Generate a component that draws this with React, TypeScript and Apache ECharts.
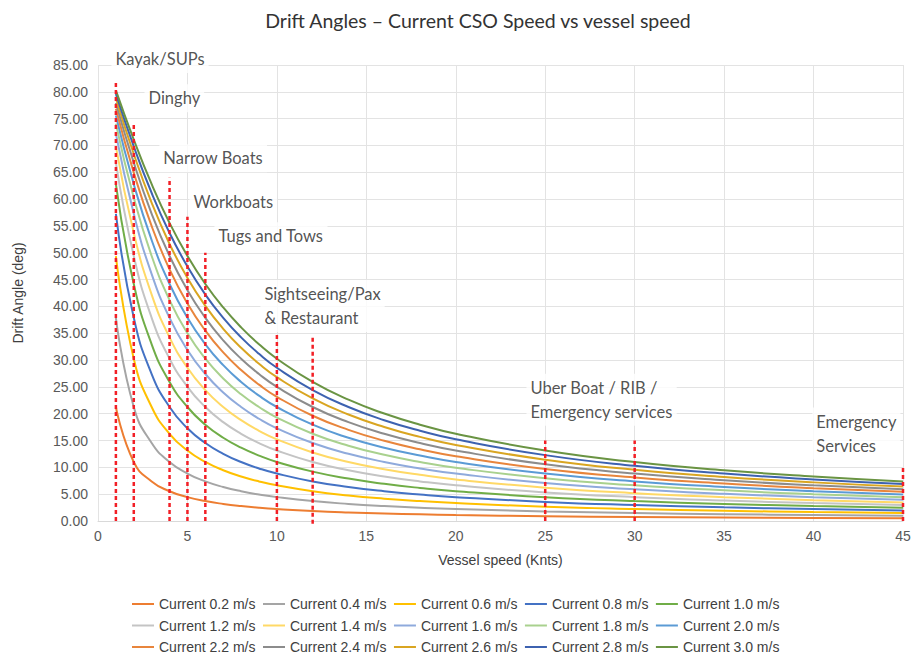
import React, { useEffect, useRef } from "react";
import * as echarts from "echarts";

const vesselSpeeds = [1, 2, 3, 4, 5, 6, 7, 8, 9, 10, 12, 14, 16, 18, 20, 25, 30, 35, 40, 45];

const currentLabels = [
  "Current 0.2 m/s", "Current 0.4 m/s", "Current 0.6 m/s", "Current 0.8 m/s", "Current 1.0 m/s",
  "Current 1.2 m/s", "Current 1.4 m/s", "Current 1.6 m/s", "Current 1.8 m/s", "Current 2.0 m/s",
  "Current 2.2 m/s", "Current 2.4 m/s", "Current 2.6 m/s", "Current 2.8 m/s", "Current 3.0 m/s",
];

const c02 = [21.25, 11.0, 7.38, 5.55, 4.45, 3.71, 3.18, 2.78, 2.47, 2.23, 1.86, 1.59, 1.39, 1.24, 1.11, 0.89, 0.74, 0.64, 0.56, 0.5];
const c04 = [37.87, 21.25, 14.53, 11.0, 8.84, 7.38, 6.34, 5.55, 4.94, 4.45, 3.71, 3.18, 2.78, 2.47, 2.23, 1.78, 1.49, 1.27, 1.11, 0.99];
const c06 = [49.39, 30.25, 21.25, 16.26, 13.13, 11.0, 9.46, 8.3, 7.38, 6.65, 5.55, 4.76, 4.17, 3.71, 3.34, 2.67, 2.23, 1.91, 1.67, 1.49];
const c08 = [57.26, 37.87, 27.4, 21.25, 17.28, 14.53, 12.53, 11.0, 9.8, 8.84, 7.38, 6.34, 5.55, 4.94, 4.45, 3.56, 2.97, 2.54, 2.23, 1.98];
const c10 = [62.78, 44.18, 32.94, 25.92, 21.25, 17.95, 15.52, 13.66, 12.19, 11.0, 9.2, 7.91, 6.93, 6.16, 5.55, 4.45, 3.71, 3.18, 2.78, 2.47];
const c12 = [66.8, 49.39, 37.87, 30.25, 25.01, 21.25, 18.43, 16.26, 14.53, 13.13, 11.0, 9.46, 8.3, 7.38, 6.65, 5.33, 4.45, 3.81, 3.34, 2.97];
const c14 = [69.82, 53.69, 42.21, 34.23, 28.56, 24.4, 21.25, 18.79, 16.82, 15.22, 12.78, 11.0, 9.65, 8.6, 7.75, 6.21, 5.18, 4.45, 3.89, 3.46];
const c16 = [72.18, 57.26, 46.03, 37.87, 31.88, 27.4, 23.96, 21.25, 19.06, 17.28, 14.53, 12.53, 11.0, 9.8, 8.84, 7.09, 5.92, 5.08, 4.45, 3.95];
const c18 = [74.05, 60.25, 49.39, 41.18, 34.98, 30.25, 26.56, 23.62, 21.25, 19.28, 16.26, 14.03, 12.34, 11.0, 9.92, 7.97, 6.65, 5.71, 5.0, 4.45];
const c20 = [75.58, 62.78, 52.34, 44.18, 37.87, 32.94, 29.05, 25.92, 23.36, 21.25, 17.95, 15.52, 13.66, 12.19, 11.0, 8.84, 7.38, 6.34, 5.55, 4.94];
const c22 = [76.84, 64.94, 54.95, 46.91, 40.54, 35.48, 31.42, 28.13, 25.42, 23.15, 19.62, 16.99, 14.96, 13.37, 12.07, 9.71, 8.11, 6.97, 6.1, 5.43];
const c24 = [77.9, 66.8, 57.26, 49.39, 43.02, 37.87, 33.68, 30.25, 27.4, 25.01, 21.25, 18.43, 16.26, 14.53, 13.13, 10.57, 8.84, 7.59, 6.65, 5.92];
const c26 = [78.81, 68.41, 59.31, 51.64, 45.31, 40.11, 35.83, 32.28, 29.32, 26.81, 22.84, 19.85, 17.53, 15.68, 14.18, 11.43, 9.56, 8.22, 7.2, 6.41];
const c28 = [79.59, 69.82, 61.14, 53.69, 47.43, 42.21, 37.87, 34.23, 31.16, 28.56, 24.4, 21.25, 18.79, 16.82, 15.22, 12.28, 10.28, 8.84, 7.75, 6.9];
const c30 = [80.27, 71.07, 62.78, 55.55, 49.39, 44.18, 39.8, 36.09, 32.94, 30.25, 25.92, 22.61, 20.03, 17.95, 16.26, 13.13, 11.0, 9.46, 8.3, 7.38];

const seriesValues = [c02, c04, c06, c08, c10, c12, c14, c16, c18, c20, c22, c24, c26, c28, c30];

const seriesColors = [
  "#ED7D31", "#A5A5A5", "#FFC000", "#4472C4", "#70AD47",
  "#C4C4C4", "#FFD966", "#8FAADC", "#A9D18E", "#5B9BD5",
  "#E8853C", "#8C8C8C", "#D9A521", "#3D62B0", "#6A9443",
];

// Vessel-type marker lines (vessel speed, drift angle range)
const markerSpeeds = [1, 2, 4, 5, 6, 10, 12, 25, 30, 45];
const markerTops = [82, 74, 64, 56.7, 50, 35, 34.2, 15, 15, 10];
const markerBottoms = [0, 0, 0, 0, 0, 0, -0.5, 0, 0, 0];

// Vessel-type annotations
const vesselTypes = [
  "Kayak/SUPs",
  "Dinghy",
  "Narrow Boats",
  "Workboats",
  "Tugs and Tows",
  "Sightseeing/Pax\n& Restaurant",
  "Uber Boat / RIB /\nEmergency services",
  "Emergency\nServices",
];
const vesselTypeX = [0.75, 2.6, 3.43, 5.11, 6.51, 9.08, 23.95, 39.93];
const vesselTypeY = [86.1, 78.8, 67.6, 59.5, 53.1, 40.1, 22.6, 16.3];

const yTicks = { min: 0, max: 85, interval: 5 };
const xTicks = { min: 0, max: 45, interval: 5 };

export default function App() {
  const ref = useRef<HTMLDivElement>(null);

  useEffect(() => {
    if (!ref.current) return;
    const chart = echarts.init(ref.current, null, { renderer: "svg" });

    const curveSeries = seriesValues.map((vals, i) => ({
      name: currentLabels[i],
      type: "line",
      data: vesselSpeeds.map((v, j) => [v, vals[j]]),
      smooth: 0.5,
      symbol: "none",
      lineStyle: { width: 2, color: seriesColors[i] },
      itemStyle: { color: seriesColors[i] },
      z: 2,
    }));

    const markerSeries = markerSpeeds.map((x, i) => ({
      name: "marker" + i,
      type: "line",
      data: [
        [x, markerBottoms[i]],
        [x, markerTops[i]],
      ],
      symbol: "none",
      clip: false,
      lineStyle: { width: 2.5, color: "#F21F26", type: [4, 3] },
      z: 4,
      silent: true,
    }));

    const annotationSeries = {
      name: "annotations",
      type: "scatter",
      clip: false,
      symbolSize: 0,
      silent: true,
      z: 5,
      data: vesselTypes.map((t, i) => ({ name: t, value: [vesselTypeX[i], vesselTypeY[i]] })),
      label: {
        show: true,
        position: "right",
        distance: 0,
        formatter: (p: any) => p.name,
        fontFamily: "Lato",
        fontSize: 16.5,
        lineHeight: 24,
        color: "#262626",
        backgroundColor: "#ffffff",
        padding: [2, 4],
      },
    };

    const legendRows = [0, 1, 2].map((r) => ({
      data: currentLabels.slice(r * 5, r * 5 + 5),
      left: 127,
      top: 592 + r * 21.5,
      orient: "horizontal",
      icon: "rect",
      itemGap: 7.5,
      itemWidth: 22,
      itemHeight: 2,
      textStyle: {
        fontFamily: "Liberation Sans",
        fontSize: 14,
        color: "#404040",
      },
      selectedMode: false,
    }));

    chart.setOption({
      animation: false,
      backgroundColor: "#ffffff",
      title: {
        text: "Drift Angles \u2013 Current CSO Speed vs vessel speed",
        left: 473,
        textAlign: "center",
        top: 5,
        textStyle: { fontFamily: "Lato", fontSize: 19.5, fontWeight: "normal", color: "#333333" },
      },
      legend: legendRows,
      grid: { left: 98, right: 11, top: 65, bottom: 137, containLabel: false },
      xAxis: {
        type: "value",
        ...xTicks,
        name: "Vessel speed (Knts)",
        nameLocation: "middle",
        nameGap: 32,
        nameTextStyle: { fontFamily: "Liberation Sans", fontSize: 14, color: "#404040" },
        axisLine: { show: true, lineStyle: { color: "#D9D9D9" } },
        axisTick: { show: false },
        axisLabel: { fontFamily: "Liberation Sans", fontSize: 14, color: "#595959", margin: 8 },
        splitLine: { show: true, lineStyle: { color: "#E3E3E3", width: 1 } },
      },
      yAxis: {
        type: "value",
        ...yTicks,
        name: "Drift Angle (deg)",
        nameLocation: "middle",
        nameGap: 73,
        nameTextStyle: { fontFamily: "Liberation Sans", fontSize: 14, color: "#404040" },
        axisLine: { show: false },
        axisTick: { show: false },
        axisLabel: {
          fontFamily: "Liberation Sans",
          fontSize: 14,
          color: "#595959",
          margin: 10,
          formatter: (v: number) => v.toFixed(2),
        },
        splitLine: { show: true, lineStyle: { color: "#E3E3E3", width: 1 } },
      },
      series: [...curveSeries, ...markerSeries, annotationSeries],
    });

    return () => chart.dispose();
  }, []);

  return (
    <div
      ref={ref}
      style={{ position: "fixed", left: 0, top: 0, width: 914, height: 658, background: "#fff" }}
    />
  );
}
